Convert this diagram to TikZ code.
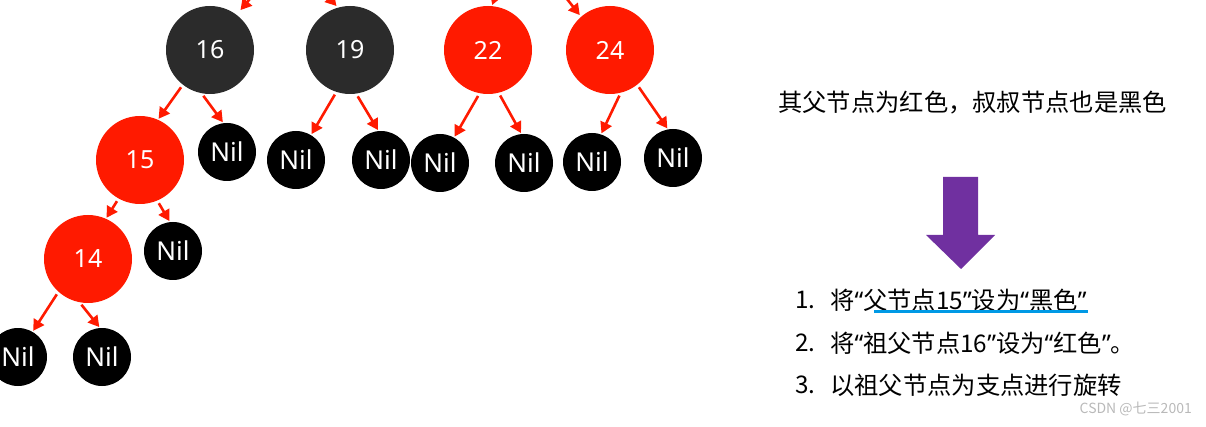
\documentclass[tikz,border=0pt]{standalone}
\usepackage{fontspec}
\setmainfont{Noto Sans}
\newfontfamily\cjk{Noto Sans CJK SC}
\usetikzlibrary{arrows.meta}

\definecolor{nodered}{HTML}{FF1A00}
\definecolor{nodedark}{HTML}{2B2B2B}
\definecolor{arrowpurple}{HTML}{7030A0}
\definecolor{markblue}{HTML}{0099E5}

\newcommand{\openq}{{\rmfamily “}}
\newcommand{\closeq}{{\rmfamily ”}}

\tikzset{
  rbnode/.style={circle, minimum size=88pt, inner sep=0pt, text=white,
    font=\fontsize{25}{30}\selectfont},
  rednode/.style={rbnode, fill=nodered},
  darknode/.style={rbnode, fill=nodedark},
  nilnode/.style={circle, minimum size=58pt, inner sep=0pt, fill=black, text=white,
    font=\fontsize{26}{30}\selectfont},
  edge/.style={draw=nodered, line width=2.6pt, shorten >=1pt, shorten <=3pt,
    -{Triangle[length=11pt, width=12pt]}},
  cjktext/.style={font=\cjk\fontsize{24.3}{29}\selectfont, inner sep=0pt, anchor=west}
}

\begin{document}
\begin{tikzpicture}[x=1pt, y=-1pt]
    % Marco
    \useasboundingbox (0,0) rectangle (1206,427);
    \clip (0,0) rectangle (1206,427);

    % Nodos del arbol
    \node[darknode] (n16) at (210,50) {16};
    \node[darknode] (n19) at (350,50) {19};
    \node[rednode]  (n22) at (488,50) {22};
    \node[rednode]  (n24) at (610,50) {24};
    \node[rednode]  (n15) at (140,160) {15};
    \node[rednode]  (n14) at (88,259) {14};

    % Hojas Nil
    \node[nilnode] (nil16r) at (227,152) {Nil};
    \node[nilnode] (nil19l) at (296,160) {Nil};
    \node[nilnode] (nil19r) at (381,160) {Nil};
    \node[nilnode] (nil22l) at (440,163) {Nil};
    \node[nilnode] (nil22r) at (524,163) {Nil};
    \node[nilnode] (nil24l) at (592,162) {Nil};
    \node[nilnode] (nil24r) at (673,158) {Nil};
    \node[nilnode] (nil15r) at (173,251) {Nil};
    \node[nilnode] (nil14l) at (18,357) {Nil};
    \node[nilnode] (nil14r) at (102,357) {Nil};

    % Flechas que vienen de arriba
    \coordinate (in16) at (254,-6);
    \coordinate (in19) at (324,-8);
    \coordinate (in22) at (497,-8);
    \coordinate (in24) at (563,-6);
    \draw[edge, shorten >=6pt] (in16) -- (n16.53);
    \draw[edge, shorten >=2pt] (in19) -- (n19.106);
    \draw[edge, shorten >=1pt] (in22) -- (n22.85);
    \draw[edge, shorten >=2pt] (in24) -- (n24.131);

    % Flechas padre -> hijo
    \draw[edge] (n16.232) -- (n15.66);
    \draw[edge] (n16.259) -- (nil16r.97);
    \draw[edge] (n19.252) -- (nil19l.59);
    \draw[edge] (n19.278) -- (nil19r.95);
    \draw[edge] (n22.259) -- (nil22l.61);
    \draw[edge] (n22.284) -- (nil22r.95);
    \draw[edge] (n24.284) -- (nil24l.72);
    \draw[edge] (n24.308) -- (nil24r.100);
    \draw[edge] (n15.241) -- (n14.66);
    \draw[edge] (n15.293) -- (nil15r.96);
    \draw[edge] (n14.228) -- (nil14l.60);
    \draw[edge] (n14.259) -- (nil14r.94);

    % Caso
    \node[cjktext] (caso) at (778,103) {其父节点为红色，叔叔节点也是黑色};

    % Flecha morada
    \fill[arrowpurple] (943,177) -- (978,177) -- (978,235) -- (995,235) -- (961,269)
        -- (926,235) -- (943,235) -- cycle;

    % Pasos
    \node[cjktext] (num1) at (795,300) {1.};
    \node[cjktext] (paso1) at (830,300) {将\openq 父节点15\closeq 设为\openq 黑色\closeq};
    \node[cjktext] (num2) at (795,343) {2.};
    \node[cjktext] (paso2) at (830,343) {将\openq 祖父节点16\closeq 设为\openq 红色\closeq 。};
    \node[cjktext] (num3) at (795,385) {3.};
    \node[cjktext] (paso3) at (830,385) {以祖父节点为支点进行旋转};
    \draw[markblue, line width=3pt] (874,311) -- (1088,311);

    % Marca de agua
    \node[font=\cjk\fontsize{14}{16}\selectfont, text=gray!55, anchor=east, inner sep=0pt]
        (marca) at (1192,409) {CSDN @七三2001};
\end{tikzpicture}
\end{document}
